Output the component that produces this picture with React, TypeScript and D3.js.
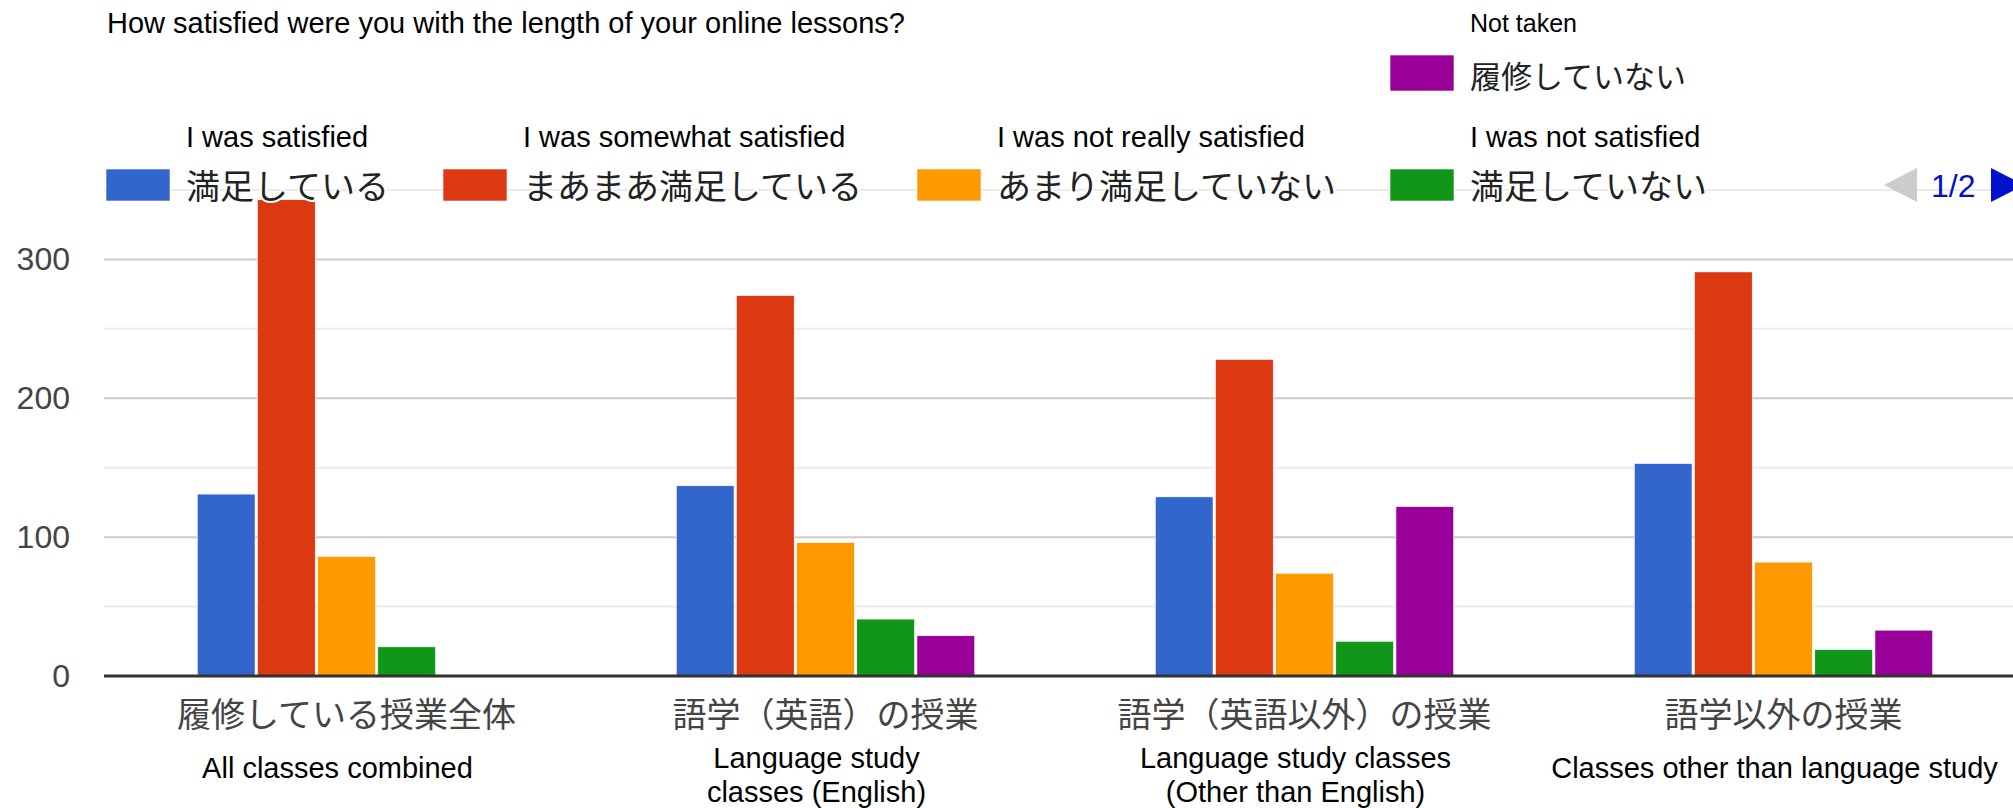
import React from "react";
import * as d3 from "d3";

// ---- Data ----
const categoriesJa = ["履修している授業全体", "語学（英語）の授業", "語学（英語以外）の授業", "語学以外の授業"];
const categoriesEn = [
  ["All classes combined"],
  ["Language study", "classes (English)"],
  ["Language study classes", "(Other than English)"],
  ["Classes other than language study"],
];
const seriesJa = ["満足している", "まあまあ満足している", "あまり満足していない", "満足していない", "履修していない"];
const seriesEn = ["I was satisfied", "I was somewhat satisfied", "I was not really satisfied", "I was not satisfied", "Not taken"];
const satisfied = [131, 137, 129, 153];
const somewhatSatisfied = [343, 274, 228, 291];
const notReallySatisfied = [86, 96, 74, 82];
const notSatisfied = [21, 41, 25, 19];
const notTaken = [0, 29, 122, 33];
const majorTicks = [0, 100, 200, 300];
const minorTicks = [50, 150, 250, 350];
const seriesColors = ["#3366cc", "#dc3912", "#ff9900", "#109618", "#990099"];
const title = "How satisfied were you with the length of your online lessons?";

const seriesValues = [satisfied, somewhatSatisfied, notReallySatisfied, notSatisfied, notTaken];

const W = 2013;
const H = 808;
const EN = "'Liberation Sans', Arial, sans-serif";
const JA = "'Noto Sans CJK JP', 'Noto Sans', sans-serif";

export default function App() {
  const y = d3.scaleLinear().domain([0, 350]).range([676, 190]);
  const x0 = d3
    .scaleBand<string>()
    .domain(categoriesJa)
    .range([107, 2023])
    .paddingInner(0.377)
    .paddingOuter(0.1885);
  const x1 = d3
    .scaleBand<number>()
    .domain(d3.range(seriesJa.length))
    .range([0, x0.bandwidth()])
    .paddingInner(0.04)
    .paddingOuter(0);

  const plotLeft = 104;
  const plotRight = W;

  // legend layout (second row holds 4 items, first row the 5th)
  const legendSwatchX = [106, 443, 917, 1390, 1390];
  const legendRowJaY = [184, 184, 184, 184, 74];
  const legendRowEnY = [147, 147, 147, 147, 32];
  const legendJaSize = [34, 34, 34, 34, 31];
  const swatchRect = [
    { y: 169, h: 32 },
    { y: 169, h: 32 },
    { y: 169, h: 32 },
    { y: 169, h: 32 },
    { y: 55, h: 36 },
  ];

  return (
    <svg
      width={W}
      height={H}
      style={{ position: "fixed", left: 0, top: 0, background: "#fff" }}
    >
      <rect x={0} y={0} width={W} height={H} fill="#fff" />
      {/* title */}
      <text x={107} y={33} fontFamily={EN} fontSize={29} fill="#000">
        {title}
      </text>

      {/* gridlines */}
      {minorTicks.map((t) => (
        <line key={"mn" + t} x1={plotLeft} x2={plotRight} y1={y(t)} y2={y(t)} stroke="#ebebeb" strokeWidth={2} />
      ))}
      {majorTicks.filter((t) => t !== 0).map((t) => (
        <line key={"mj" + t} x1={plotLeft} x2={plotRight} y1={y(t)} y2={y(t)} stroke="#cccccc" strokeWidth={2} />
      ))}

      {/* y tick labels */}
      {majorTicks.map((t) => (
        <text
          key={"yl" + t}
          x={70}
          y={y(t)}
          textAnchor="end"
          dominantBaseline="central"
          fontFamily={EN}
          fontSize={32}
          fill="#444"
        >
          {t}
        </text>
      ))}

      {/* bars */}
      {categoriesJa.map((cat, ci) => (
        <g key={cat} transform={`translate(${x0(cat)},0)`}>
          {seriesValues.map((vals, si) =>
            vals[ci] > 0 ? (
              <rect
                key={si}
                x={x1(si)}
                y={y(vals[ci])}
                width={x1.bandwidth()}
                height={y(0) - y(vals[ci])}
                fill={seriesColors[si]}
                stroke="#fff"
                strokeWidth={0.6}
              />
            ) : null
          )}
        </g>
      ))}

      {/* baseline */}
      <line x1={plotLeft} x2={plotRight} y1={y(0)} y2={y(0)} stroke="#333" strokeWidth={3} />

      {/* category labels */}
      {categoriesJa.map((cat, ci) => {
        const cx = (x0(cat) as number) + x0.bandwidth() / 2;
        const en = categoriesEn[ci];
        const enYs = en.length === 1 ? [768] : [758, 792];
        return (
          <g key={"cl" + ci}>
            <text
              x={cx}
              y={712}
              textAnchor="middle"
              dominantBaseline="central"
              fontFamily={JA}
              fontSize={34}
              fill="#444"
            >
              {cat}
            </text>
            {en.map((line, li) => (
              <text
                key={li}
                x={cx - 9}
                y={enYs[li]}
                textAnchor="middle"
                dominantBaseline="central"
                fontFamily={EN}
                fontSize={29}
                fill="#000"
              >
                {line}
              </text>
            ))}
          </g>
        );
      })}

      {/* legend */}
      {seriesJa.map((name, si) => (
        <g key={"lg" + si}>
          <rect
            x={legendSwatchX[si]}
            y={swatchRect[si].y}
            width={64}
            height={swatchRect[si].h}
            fill={seriesColors[si]}
            stroke="#fff"
            strokeWidth={0.6}
          />
          <text
            x={legendSwatchX[si] + 80}
            y={legendRowJaY[si]}
            dominantBaseline="central"
            fontFamily={JA}
            fontSize={legendJaSize[si]}
            fill="#222"
            stroke="#fff"
            strokeWidth={4}
            paintOrder="stroke"
            strokeLinejoin="round"
          >
            {name}
          </text>
          <text
            x={legendSwatchX[si] + 80}
            y={legendRowEnY[si]}
            fontFamily={EN}
            fontSize={si === 4 ? 25 : 29}
            fill="#000"
          >
            {seriesEn[si]}
          </text>
        </g>
      ))}

      {/* pagination */}
      <path d="M1884,185 L1917,168 L1917,202 Z" fill="#cccccc" />
      <text x={1931} y={197} fontFamily={EN} fontSize={32} fill="#0011cc">
        1/2
      </text>
      <path d="M1991,168 L2024,185 L1991,202 Z" fill="#0011cc" />
    </svg>
  );
}
